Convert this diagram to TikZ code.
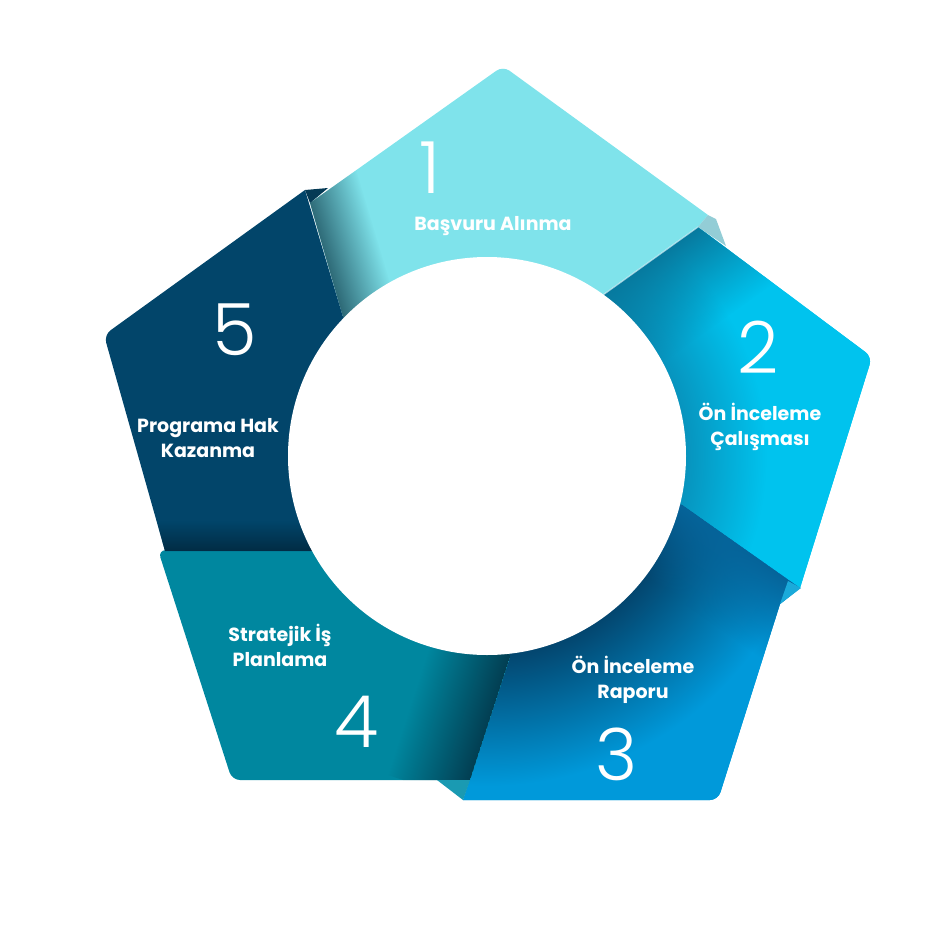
\documentclass[tikz,border=0pt]{standalone}
\usepackage{fontspec}
\setmainfont{Poppins}
\newfontfamily\numfont{Poppins}[UprightFont=* Light]
\usetikzlibrary{fadings}

\definecolor{segA}{HTML}{7FE3EB}
\definecolor{segAdark}{HTML}{2E6A77}
\definecolor{segB}{HTML}{00C3EE}
\definecolor{segBdark}{HTML}{077A9F}
\definecolor{segBring}{HTML}{0794BE}
\definecolor{segC}{HTML}{0099DA}
\definecolor{segCdark}{HTML}{06649A}
\definecolor{segCring}{HTML}{03466F}
\definecolor{segD}{HTML}{00879F}
\definecolor{segDdark}{HTML}{033E52}
\definecolor{segE}{HTML}{02456A}
\definecolor{segEdark}{HTML}{012C44}
\definecolor{foldA}{HTML}{93CDD6}
\definecolor{foldB}{HTML}{1AAADA}
\definecolor{foldC}{HTML}{1A9AB2}
\definecolor{foldE}{HTML}{053A55}

% shadow round the hole, 1bp = 20pt on a circle of 500
\pgfdeclareradialshading{hubB}{\pgfpoint{0bp}{0bp}}{color(0bp)=(segBring); color(9.95bp)=(segBring); color(14bp)=(segB); color(50bp)=(segB)}
\pgfdeclareradialshading{hubC}{\pgfpoint{0bp}{0bp}}{color(0bp)=(segCring); color(9.95bp)=(segCring); color(16.5bp)=(segC); color(50bp)=(segC)}

\begin{document}
\begin{tikzpicture}
    [x=1pt, y=1pt,
     seglabel/.style={text=white,
        font=\bfseries\fontsize{19}{25}\selectfont,
        align=center},
     segnum/.style={text=white,
        font=\numfont\fontsize{72}{72}\selectfont,
        inner sep=0pt}]
    \useasboundingbox (0,0) rectangle (938,-938);

    % Segment 1
    \begin{scope}
        \clip (343,-317) -- (310,-203) [rounded corners=8] -- (503,-66) [sharp corners] -- (708,-215) -- (698,-227) -- (603,-295) -- (487,-456) -- cycle;
        \fill[segA] (0,0) rectangle (938,-938);
        \begin{scope}[transform canvas={shift={(305,-190)}, rotate=-73.3}]
            \fill[segAdark, path fading=north] (-20,0) rectangle (160,55);
        \end{scope}
    \end{scope}

    % Segment 2
    \begin{scope}
        \clip (603,-295) -- (698,-227) [rounded corners=8] -- (872,-357) [sharp corners] -- (800,-588) -- (682,-505) -- (487,-456) -- cycle;
        \fill[segB] (0,0) rectangle (938,-938);
        \shade[shading=hubB] (487,-456) circle (500);
        \begin{scope}[transform canvas={shift={(603,-295)}, rotate=35.6}]
            \fill[segBdark, path fading=south] (-20,0) rectangle (150,-90);
        \end{scope}
    \end{scope}

    % Segment 3
    \begin{scope}
        \clip (682,-505) -- (800,-588) -- (780,-604) [rounded corners=8] -- (718,-800) [sharp corners] -- (463,-800) -- (510,-657) -- (487,-456) -- cycle;
        \fill[segC] (0,0) rectangle (938,-938);
        \shade[shading=hubC] (487,-456) circle (500);
        \begin{scope}[transform canvas={shift={(682,-505)}, rotate=-35.1}]
            \fill[segCdark, path fading=south] (-40,0) rectangle (160,-80);
        \end{scope}
    \end{scope}

    % Segment 4
    \begin{scope}
        \clip (510,-657) -- (470,-780) [rounded corners=8] -- (232,-780) -- (158,-550) [sharp corners] -- (312,-551) -- (487,-456) -- cycle;
        \fill[segD] (0,0) rectangle (938,-938);
        \begin{scope}[transform canvas={shift={(510,-657)}, rotate=-108}]
            \fill[segDdark, path fading=south] (-20,0) rectangle (150,-80);
        \end{scope}
    \end{scope}

    % Segment 5
    \begin{scope}
        \clip (165,-551) [rounded corners=8] -- (104,-335) [sharp corners] -- (305,-190) -- (343,-317) -- (487,-456) -- (312,-551) -- cycle;
        \fill[segE] (0,0) rectangle (938,-938);
        \begin{scope}[transform canvas={shift={(312,-551)}, rotate=180}]
            \fill[segEdark, path fading=south] (-20,0) rectangle (170,-30);
        \end{scope}
    \end{scope}

    % Folds
    \fill[foldA] (708,-215) -- (716,-219) -- (726,-246) -- (698,-227) -- cycle;
    \fill[foldB] (788,-581) -- (801,-588) -- (780,-604) -- cycle;
    \fill[foldC] (437,-780) -- (470,-780) -- (463,-800) -- cycle;
    \fill[foldE] (305,-190) -- (328,-188) -- (310,-203) -- cycle;
    \draw[white, opacity=0.6, line width=1.2] (603,-295) -- (698,-227);

    % Centre
    \node [fill=white,
        circle,
        inner sep=0pt,
        minimum size=398pt]
        (hub) at (487,-456){};

    % Numbers and labels
    \node[segnum] (N1) at (430,-168) {1};
    \node[seglabel] (L1) at (493,-226) {Başvuru Alınma};
    \node[segnum] (N2) at (758,-347) {2};
    \node[seglabel] (L2) at (760,-427) {Ön İnceleme\\Çalışması};
    \node[segnum] (N3) at (617,-754) {3};
    \node[seglabel] (L3) at (633,-680) {Ön İnceleme\\Raporu};
    \node[segnum] (N4) at (357,-722) {4};
    \node[seglabel] (L4) at (280,-645) {Stratejik İş\\Planlama};
    \node[segnum] (N5) at (235,-330) {5};
    \node[seglabel] (L5) at (208,-438) {Programa Hak\\Kazanma};
\end{tikzpicture}
\end{document}
